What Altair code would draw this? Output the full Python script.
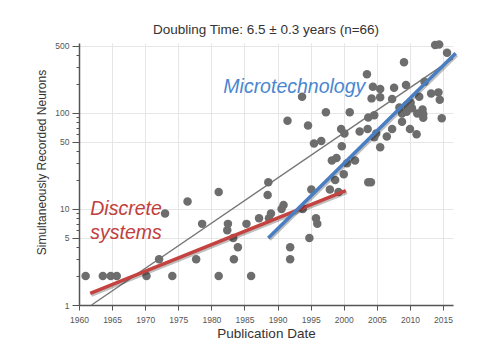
import altair as alt
import pandas as pd

FONT = "Liberation Sans"

# ---- data ----
years = [1961.0, 1963.6, 1964.8, 1965.7, 1970.2, 1972.1, 1973.0, 1974.1, 1976.4, 1977.7,
         1978.6, 1981.1, 1981.1, 1982.5, 1982.4, 1983.3, 1984.0, 1983.4, 1985.3, 1986.0,
         1987.2, 1988.6, 1988.5, 1989.0, 1988.7, 1990.6, 1990.9, 1991.9, 1991.9, 1993.8,
         1995.1, 1995.8, 1996.0, 1994.8, 1997.9, 1999.2, 1998.7, 2000.0, 1998.2, 1998.9,
         2000.5, 2001.7, 2003.7, 2004.1, 1991.5, 1993.7, 1994.6, 1995.5, 1996.6, 1997.3,
         1999.7, 1999.6, 2000.1, 2000.9, 2002.4, 2003.6, 2003.5, 2003.7, 2004.6, 2004.2,
         2004.4, 2005.5, 2005.5, 2004.6, 2004.9, 2005.5, 2006.5, 2007.3, 2007.3, 2007.6,
         2008.4, 2008.8, 2008.8, 2009.1, 2009.4, 2009.5, 2009.5, 2010.1, 2010.3, 2010.0,
         2011.0, 2011.1, 2011.4, 2011.9, 2012.0, 2012.0, 2012.2, 2013.2, 2014.3, 2014.5,
         2014.8, 2013.8, 2014.4, 2015.6]
neurons = [2, 2, 2, 2, 2, 3, 9, 2, 12, 3,
           7, 15, 2, 7, 6, 5, 4, 3, 7, 2,
           8, 19, 14, 9, 8, 10, 11, 4, 3, 10,
           16, 8, 7, 5, 16, 15, 20, 23, 32, 34,
           30, 32, 19, 19, 83, 148, 74, 48, 51, 102,
           45, 68, 61, 102, 64, 68, 253, 90, 95, 142,
           188, 178, 146, 56, 61, 44, 57, 68, 140, 183,
           114, 99, 81, 337, 196, 121, 103, 128, 112, 68,
           60, 99, 148, 109, 97, 89, 212, 160, 164, 137,
           88, 511, 518, 425]

fit_years = [1961.9, 2016.5]
fit_vals = [1.0, 371.0]
disc_years = [1961.7, 2000.3]
disc_vals = [1.32, 15.5]
micro_years = [1988.6, 2016.9]
micro_vals = [5.0, 419.0]

label_text = ["Microtechnology", "Discrete", "systems"]
label_years = [1981.8, 1961.7, 1961.7]
label_vals = [160.0, 8.66, 4.87]
label_colors = ["#4a86cf", "#c0403d", "#c0403d"]

x_ticks = list(range(1960, 2016, 5))
y_ticks = [1, 2, 3, 4, 5, 6, 7, 8, 9, 10, 20, 30, 40, 50, 60, 70, 80, 90, 100, 200, 300, 400, 500]
y_major = [1, 5, 10, 50, 100, 500]

# ---- tables ----
pts = pd.DataFrame({"year": years, "n": neurons})
fit = pd.DataFrame({"year": fit_years, "n": fit_vals})
disc = pd.DataFrame({"year": disc_years, "n": disc_vals})
micro = pd.DataFrame({"year": micro_years, "n": micro_vals})
labs = pd.DataFrame({"year": label_years, "n": label_vals, "t": label_text, "c": label_colors})

major_test = "indexof(" + str(y_major) + ", datum.value) >= 0"

X_SCALE = alt.Scale(domain=[1960, 2016.5], nice=False, zero=False)
Y_SCALE = alt.Scale(type="log", domain=[1, 536], nice=False)

x_axis = alt.Axis(
    values=x_ticks, format="d", title="Publication Date",
    titleFont=FONT, titleFontSize=13.5, titleFontWeight="normal", titleColor="#333333",
    titleX=187, titleY=28, titleBaseline="middle",
    labelFont=FONT, labelFontSize=8.5, labelColor="#555555", labelPadding=5,
    labelFlush=False, labelOverlap=False,
    tickSize=5, tickColor="#555555", tickWidth=1,
    domainColor="#555555", domainWidth=1.5,
    gridColor="#e6e6e6", gridWidth=1,
)
y_axis = alt.Axis(
    values=y_ticks, title="Simultaneously Recorded Neurons",
    labelExpr=major_test + " ? format(datum.value, 'd') : ''",
    titleFont=FONT, titleFontSize=12, titleFontWeight="normal", titleColor="#333333",
    titleX=-38, titleY=119, titleAngle=270, titleBaseline="middle",
    labelFont=FONT, labelFontSize=8.5, labelColor="#555555", labelPadding=3,
    labelOverlap=False, labelFlush=False,
    tickSize={"condition": {"test": major_test, "value": 7}, "value": 3},
    tickColor="#555555", tickWidth=1,
    domainColor="#555555", domainWidth=1.5,
    gridColor="#e6e6e6", gridWidth=1,
    gridOpacity={"condition": {"test": major_test, "value": 1}, "value": 0},
)


def enc():
    return dict(
        x=alt.X("year:Q", scale=X_SCALE, axis=x_axis),
        y=alt.Y("n:Q", scale=Y_SCALE, axis=y_axis),
    )


fit_line = alt.Chart(fit).mark_line(color="#777777", strokeWidth=1.5).encode(**enc())
points = alt.Chart(pts).mark_circle(size=72, color="#6d6d6d", opacity=1).encode(**enc())

disc_shadow = alt.Chart(disc).mark_line(color="#000000", opacity=0.25, strokeWidth=4,
                                        xOffset=1, yOffset=1.5).encode(**enc())
disc_line = alt.Chart(disc).mark_line(color="#c4423f", strokeWidth=3.5).encode(**enc())
micro_shadow = alt.Chart(micro).mark_line(color="#000000", opacity=0.25, strokeWidth=4,
                                          xOffset=1, yOffset=1.5).encode(**enc())
micro_line = alt.Chart(micro).mark_line(color="#4a7ec2", strokeWidth=3.5).encode(**enc())

texts = alt.Chart(labs).mark_text(
    font=FONT, fontSize=19.5, fontStyle="italic", align="left", baseline="alphabetic"
).encode(text="t:N", color=alt.Color("c:N", scale=None), **enc())

chart = alt.layer(
    fit_line, points, disc_shadow, disc_line, micro_shadow, micro_line, texts
).properties(
    width=374, height=262,
    autosize=alt.AutoSizeParams(type="none"),
    padding={"left": 79, "top": 43, "right": 27, "bottom": 47},
    title=alt.TitleParams(
        "Doubling Time: 6.5 \u00b1 0.3 years (n=66)",
        font=FONT, fontSize=13.5, fontWeight="normal", color="#333333",
        anchor="middle", offset=4,
    ),
).configure_view(stroke=None)

chart.save("out.html", embed_options={"renderer": "svg", "actions": False})
